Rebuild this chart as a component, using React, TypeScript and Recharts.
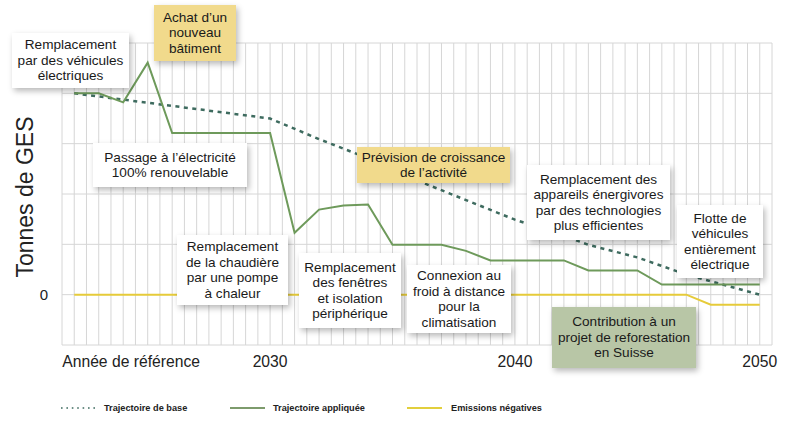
import { LineChart, Line, XAxis, YAxis, CartesianGrid } from "recharts";

// years from the reference year to 2050
const years = [
  2022, 2023, 2024, 2025, 2026, 2027, 2028, 2029, 2030, 2031, 2032, 2033, 2034, 2035, 2036,
  2037, 2038, 2039, 2040, 2041, 2042, 2043, 2044, 2045, 2046, 2047, 2048, 2049, 2050,
];

// Trajectoire appliquée
const applied = [
  4.0, 4.0, 3.82, 4.61, 3.21, 3.21, 3.21, 3.21, 3.21, 1.23, 1.69, 1.77, 1.79, 0.99, 0.99,
  0.99, 0.87, 0.68, 0.68, 0.68, 0.68, 0.48, 0.48, 0.48, 0.2, 0.2, 0.2, 0.2, 0.2,
];

// Trajectoire de base (read at a few years, straight segments between)
const baseYears = [2022, 2030, 2032, 2034, 2036, 2038, 2040, 2042, 2043, 2045, 2047, 2050];
const baseValues = [4.0, 3.5, 3.09, 2.71, 2.27, 1.88, 1.49, 1.17, 0.99, 0.74, 0.4, 0.0];

// Emissions négatives
const negative = [
  0, 0, 0, 0, 0, 0, 0, 0, 0, 0, 0, 0, 0, 0, 0,
  0, 0, 0, 0, 0, 0, 0, 0, 0, 0, 0, -0.2, -0.2, -0.2,
];

const yTicks = [-1, 0, 1, 2, 3, 4, 5];
const xLabels: Record<number, string> = {
  2022: "Année de référence",
  2030: "2030",
  2040: "2040",
  2050: "2050",
};
// grid every half year
const xTicks = Array.from({ length: 59 }, (_, i) => 2021.5 + i * 0.5);

const data = years.map((year, i) => {
  const b = baseYears.indexOf(year);
  return {
    year,
    applied: applied[i],
    base: b >= 0 ? baseValues[b] : null,
    negative: negative[i],
  };
});

const notes = [
  { lines: ["Remplacement", "par des véhicules", "électriques"], left: 12, top: 33, width: 117, height: 55, bg: "#ffffff" },
  { lines: ["Achat d’un", "nouveau", "bâtiment"], left: 154, top: 5, width: 82, height: 56, bg: "#f1da8c" },
  { lines: ["Passage à l’électricité", "100% renouvelable"], left: 93, top: 143, width: 154, height: 44, bg: "#ffffff" },
  { lines: ["Prévision de croissance", "de l’activité"], left: 357, top: 147, width: 153, height: 36, bg: "#f1da8c" },
  { lines: ["Remplacement des", "appareils énergivores", "par des technologies", "plus efficientes"], left: 527, top: 165, width: 143, height: 75, bg: "#ffffff" },
  { lines: ["Flotte de", "véhicules", "entièrement", "électrique"], left: 677, top: 205, width: 86, height: 73, bg: "#ffffff" },
  { lines: ["Remplacement", "de la chaudière", "par une pompe", "à chaleur"], left: 177, top: 235, width: 111, height: 70, bg: "#ffffff" },
  { lines: ["Remplacement", "des fenêtres", "et isolation", "périphérique"], left: 299, top: 253, width: 102, height: 75, bg: "#ffffff" },
  { lines: ["Connexion au", "froid à distance", "pour la", "climatisation"], left: 407, top: 265, width: 104, height: 68, bg: "#ffffff" },
  { lines: ["Contribution à un", "projet de reforestation", "en Suisse"], left: 552, top: 307, width: 144, height: 61, bg: "#b8c6a6" },
];

const legendItems = [
  { label: "Trajectoire de base", color: "#3e6b5f", dash: "1.6 3.8", width: 1.6, lineLeft: 61, textLeft: 104 },
  { label: "Trajectoire appliquée", color: "#7d9b6c", dash: undefined, width: 2, lineLeft: 230, textLeft: 273 },
  { label: "Emissions négatives", color: "#e2cf3c", dash: undefined, width: 2, lineLeft: 407, textLeft: 451 },
];

const XTick = (props: any) => {
  const { x, y, payload } = props;
  const label = xLabels[payload.value];
  if (!label) return <g />;
  const first = payload.value === 2022;
  return (
    <text
      x={first ? x - 12 : x}
      y={y + 14}
      textAnchor={first ? "start" : "middle"}
      fontSize={15.7}
      fill="#222"
    >
      {label}
    </text>
  );
};

const YTick = (props: any) => {
  const { x, y, payload } = props;
  if (payload.value !== 0) return <g />;
  return (
    <text x={x - 6} y={y} dy="0.35em" textAnchor="end" fontSize={15} fill="#222">
      0
    </text>
  );
};

const YLabel = (props: any) => {
  const vb = props.viewBox || { x: 0, y: 43, width: 62, height: 302 };
  const cx = vb.x + 33;
  const cy = vb.y + vb.height / 2 + 3;
  return (
    <text
      x={cx}
      y={cy}
      transform={`rotate(-90 ${cx} ${cy})`}
      textAnchor="middle"
      fontSize={23}
      fill="#222"
    >
      Tonnes de GES
    </text>
  );
};

export default function App() {
  return (
    <div
      style={{
        position: "absolute",
        left: 0,
        top: 0,
        width: 800,
        height: 427,
        background: "#fff",
        fontFamily: "'Liberation Sans', Arial, sans-serif",
        overflow: "hidden",
      }}
    >
      <LineChart
        width={800}
        height={427}
        data={data}
        margin={{ top: 43, right: 28, bottom: 52, left: 0 }}
      >
        <CartesianGrid stroke="#d6d6d6" strokeWidth={1} />
        <XAxis
          dataKey="year"
          type="number"
          domain={[2021.5, 2050.5]}
          ticks={xTicks}
          interval={0}
          height={30}
          axisLine={false}
          tickLine={false}
          tick={<XTick />}
        />
        <YAxis
          type="number"
          domain={[-1, 5]}
          ticks={yTicks}
          interval={0}
          width={62}
          axisLine={false}
          tickLine={false}
          tick={<YTick />}
          label={<YLabel />}
        />
        <Line
          dataKey="negative"
          type="linear"
          stroke="#e6cb3a"
          strokeWidth={2}
          dot={false}
          isAnimationActive={false}
        />
        <Line
          dataKey="base"
          type="linear"
          stroke="#3e6b5f"
          strokeWidth={2.5}
          strokeDasharray="4 4.5"
          connectNulls
          dot={false}
          isAnimationActive={false}
        />
        <Line
          dataKey="applied"
          type="linear"
          stroke="#6e9a5b"
          strokeWidth={2}
          dot={false}
          isAnimationActive={false}
        />
      </LineChart>

      {notes.map((n, i) => (
        <div
          key={i}
          style={{
            position: "absolute",
            left: n.left,
            top: n.top,
            width: n.width,
            height: n.height,
            background: n.bg,
            boxShadow: "2px 3px 6px rgba(0,0,0,0.28)",
            display: "flex",
            flexDirection: "column",
            justifyContent: "center",
            alignItems: "center",
            textAlign: "center",
            fontSize: 13.6,
            lineHeight: "15.5px",
            color: "#1a1a1a",
            whiteSpace: "nowrap",
          }}
        >
          {n.lines.map((l, j) => (
            <div key={j}>{l}</div>
          ))}
        </div>
      ))}

      {legendItems.map((it, i) => (
        <div key={i}>
          <svg
            style={{ position: "absolute", left: it.lineLeft, top: 403 }}
            width={35}
            height={10}
          >
            <line
              x1={0}
              y1={5}
              x2={35}
              y2={5}
              stroke={it.color}
              strokeWidth={it.width}
              strokeDasharray={it.dash}
            />
          </svg>
          <div
            style={{
              position: "absolute",
              left: it.textLeft,
              top: 401,
              fontFamily: "'Liberation Sans Narrow', 'Liberation Sans', sans-serif",
              fontWeight: 700,
              fontSize: 9.2,
              lineHeight: "14px",
              color: "#222",
              whiteSpace: "nowrap",
            }}
          >
            {it.label}
          </div>
        </div>
      ))}
    </div>
  );
}
